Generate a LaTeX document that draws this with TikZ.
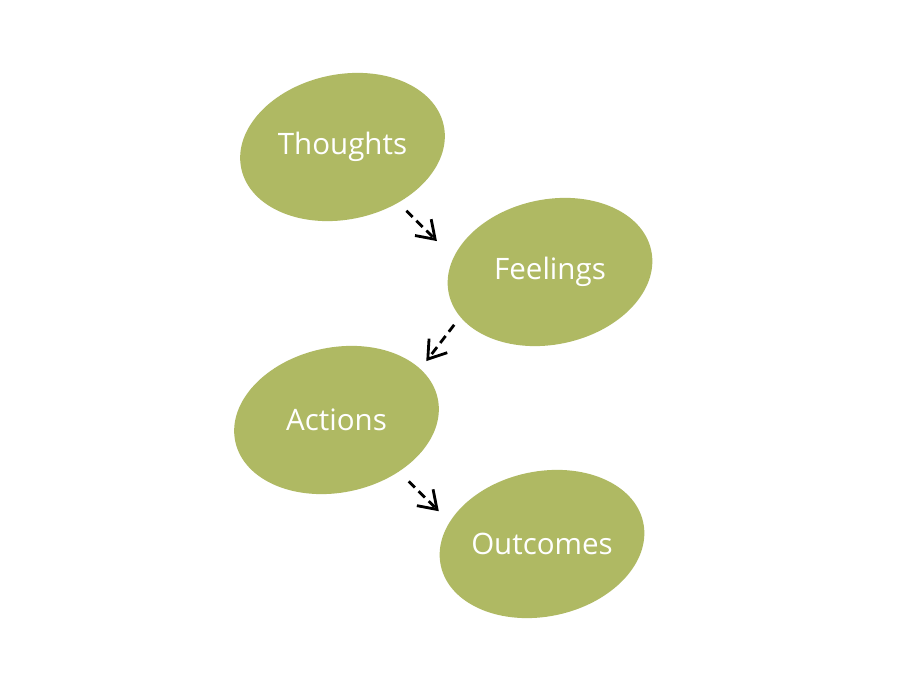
\documentclass[tikz,border=0pt]{standalone}
\usepackage{fontspec}
\setmainfont{Open Sans}
\usetikzlibrary{arrows.meta,shapes.geometric}
\definecolor{OvalGreen}{HTML}{AFB963}
\tikzset{
  >={Straight Barb[length=3.4mm,width=4.6mm]},
  dashflow/.style={->,line width=1.6pt,draw=black,dash pattern=on 5pt off 3pt},
  ovalfill/.style={ellipse,fill=OvalGreen,minimum width=4.14cm,minimum height=2.9cm,
    inner sep=0pt,rotate=12},
  oval/.style={ellipse,minimum width=4.1cm,minimum height=2.96cm,inner sep=0pt,
    outer sep=0pt,text=white,font=\fontsize{16.8}{20}\selectfont}
}
\begin{document}
\begin{tikzpicture}[x=0.02cm,y=-0.02cm]
  \useasboundingbox[fill=white] (0,0) rectangle (900,675);
  % four ovals
  \foreach \nm/\pos/\txt in {th/{342.5,147}/Thoughts,fe/{550,272}/Feelings,
      ac/{336.5,420}/Actions,oc/{542,544}/Outcomes}{
    \node[ovalfill] at (\pos) {};
    \node[oval] (\nm) at (\pos) {\txt};
  }
  % dashed links
  \draw[dashflow,shorten <=0.11cm,shorten >=0.38cm] (th.-45) -- (fe.170);
  \draw[dashflow,shorten <=0.32cm,shorten >=0.32cm] (fe.205) -- (ac.30);
  \draw[dashflow,shorten <=0.15cm,shorten >=0.2cm] (ac.-40) -- (oc.165);
\end{tikzpicture}
\end{document}
